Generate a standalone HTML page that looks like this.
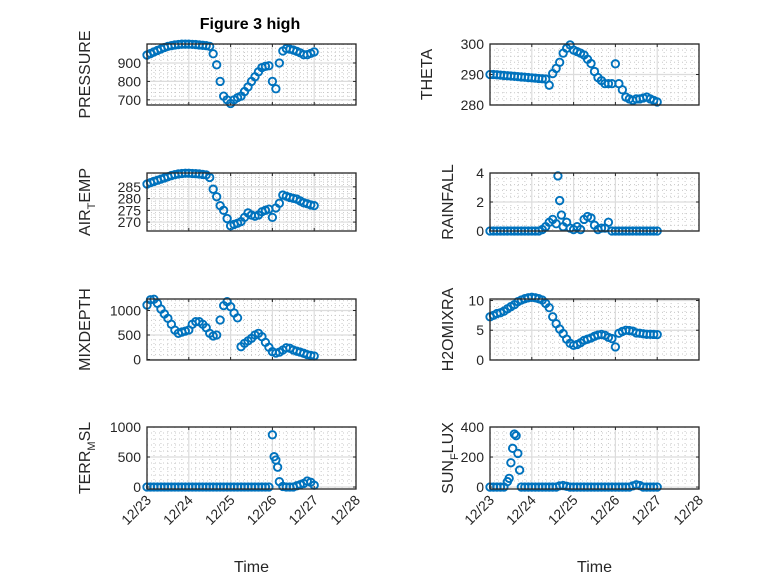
<!DOCTYPE html>
<html><head><meta charset="utf-8"><style>
html,body{margin:0;padding:0;background:#fff;}
svg{display:block;font-family:"Liberation Sans",sans-serif;}
</style></head><body>
<svg id="fig" width="778" height="583" viewBox="0 0 778 583">
<rect width="778" height="583" fill="#fff"/>
<text x="250" y="29" text-anchor="middle" font-size="16" font-weight="bold" fill="#000">Figure 3 high</text>
</svg>
<script>
// time in hours since 12/23 00:00
const xTickLabels = ["12/23","12/24","12/25","12/26","12/27","12/28"];
const t2 = [0,2,4,6,8,10,12,14,16,18,20,22,24,26,28,30,32,34,36,38,40,42,44,46,48,50,52,54,56,58,60,62,64,66,68,70,72,74,76,78,80,82,84,86,88,90,92,94,96];
const pressureVals = [943,951,960,968,976,984,990,994,998,1000,1002,1002,1002,1001,1000,998,996,994,990,950,890,800,720,700,680,700,712,720,745,770,800,825,852,875,882,885,800,760,900,965,978,975,970,963,955,945,945,952,960];
const thetaVals = [290,290,289.9,289.8,289.7,289.6,289.5,289.4,289.3,289.2,289.1,289,288.9,288.8,288.7,288.6,288.5,286.5,290.3,292,294,297,298.6,299.7,298,297.5,297,296.4,295,293.6,291,289,288,287,287,287,293.5,287,285,282.6,282,281.5,282,282,282.3,282.6,282,281.5,281];
const airVals = [286.2,286.8,287.3,287.8,288.3,288.8,289.3,289.8,290.2,290.5,290.7,290.8,290.8,290.7,290.6,290.5,290.3,290.1,289,284,280.8,277,275,271.5,268.4,269,269.5,270.2,272,273.9,273,272.5,273,274.4,275,275.5,272,276,278,281.5,281,280.5,280.1,279.8,279,278.2,277.8,277.3,277];
const mixVals = [1112,1220,1230,1146,1030,930,840,720,600,534,560,580,602,720,772,772,720,650,534,480,500,806,1100,1180,1078,950,850,262,330,380,432,500,534,466,350,250,160,130,150,194,240,230,194,170,150,126,100,85,72];
const h2oVals = [7.26,7.5,7.8,7.94,8.2,8.6,8.96,9.3,9.8,10.08,10.3,10.45,10.54,10.45,10.3,10.08,9.5,8.8,7.26,6.1,5.2,4.44,3.5,2.8,2.46,2.6,2.9,3.3,3.5,3.7,3.98,4.2,4.3,4.15,3.8,3.6,2.2,4.5,4.8,5.0,4.95,4.85,4.55,4.5,4.4,4.32,4.32,4.3,4.27];
const rainTimes = [0,2,4,6,8,10,12,14,16,18,20,22,24,26,28,30,32,34,36,38,39,40,41,42,44,46,48,50,52,54,56,58,60,62,64,66,68,70,72,74,76,78,80,82,84,86,88,90,92,94,96];
const rainVals = [0,0,0,0,0,0,0,0,0,0,0,0,0,0,0,0.1,0.3,0.6,0.8,0.5,3.8,2.1,1.1,0.3,0.6,0.2,0.1,0.3,0.1,0.8,1.0,0.9,0.4,0.1,0.2,0.2,0.6,0,0,0,0,0,0,0,0,0,0,0,0,0,0];
const terrTimes = [0,2,4,6,8,10,12,14,16,18,20,22,24,26,28,30,32,34,36,38,40,42,44,46,48,50,52,54,56,58,60,62,64,66,68,70,72,73,74,75,76,78,80,82,84,86,88,90,92,94,96];
const terrVals = [0,0,0,0,0,0,0,0,0,0,0,0,0,0,0,0,0,0,0,0,0,0,0,0,0,0,0,0,0,0,0,0,0,0,0,0,870,505,450,330,90,10,0,0,0,20,40,60,100,80,30];
const sunTimes = [0,2,4,6,8,10,11,12,13,14,15,16,17,18,20,22,24,26,28,30,32,34,36,38,40,42,44,46,48,50,52,54,56,58,60,62,64,66,68,70,72,74,76,78,80,82,84,86,88,90,92,94,96];
const sunVals = [0,0,0,0,0,36,58,162,258,353,342,224,113,0,0,0,0,0,0,0,0,0,0,0,8,10,5,0,0,0,0,0,0,0,0,0,0,0,0,0,0,0,0,0,0,8,15,10,0,0,0,0,0];
const pressureTicks = [700,800,900];
const thetaTicks = [280,290,300];
const airTicks = [270,275,280,285];
const rainTicks = [0,2,4];
const mixTicks = [0,500,1000];
const h2oTicks = [0,5,10];
const terrTicks = [0,500,1000];
const sunTicks = [0,200,400];

const NS = "http://www.w3.org/2000/svg";
const svg = document.getElementById('fig');
function mk(tag, attrs, parent){
  const e = document.createElementNS(NS, tag);
  for (const k in attrs) e.setAttribute(k, attrs[k]);
  (parent||svg).appendChild(e);
  return e;
}
const panels = [
  {id:"pressure", label:"PRESSURE", col:0, row:0, dom:[672,1003], ticks:pressureTicks, tx:t2, vals:pressureVals, lx:90},
  {id:"theta", label:"THETA", col:1, row:0, dom:[280,300], ticks:thetaTicks, tx:t2, vals:thetaVals, lx:432},
  {id:"air-temp", label:["AIR","T","EMP"], col:0, row:1, dom:[266.2,290.9], ticks:airTicks, tx:t2, vals:airVals, lx:90},
  {id:"rainfall", label:"RAINFALL", col:1, row:1, dom:[0,4], ticks:rainTicks, tx:rainTimes, vals:rainVals, lx:453},
  {id:"mixdepth", label:"MIXDEPTH", col:0, row:2, dom:[-10,1235], ticks:mixTicks, tx:t2, vals:mixVals, lx:90},
  {id:"h2omixra", label:"H2OMIXRA", col:1, row:2, dom:[0,10.25], ticks:h2oTicks, tx:t2, vals:h2oVals, lx:453},
  {id:"terr-msl", label:["TERR","M","SL"], col:0, row:3, dom:[-33,1000], ticks:terrTicks, tx:terrTimes, vals:terrVals, lx:90},
  {id:"sun-flux", label:["SUN","F","LUX"], col:1, row:3, dom:[-13,400], ticks:sunTicks, tx:sunTimes, vals:sunVals, lx:453}
];
const cols = [[147,356],[490,699]];
const rows = [[44,105],[173,231],[299,360],[427,489]];

panels.forEach(p=>{
  const [x0,x1] = cols[p.col], [y0,y1] = rows[p.row];
  const xs = h => x0 + h/120*(x1-x0);
  const ys = v => y1 - (v-p.dom[0])/(p.dom[1]-p.dom[0])*(y1-y0);
  const g = mk('g',{});
  
  
  mk('rect',{x:x0,y:y0,width:x1-x0,height:y1-y0,fill:'#fff'},g);
  for(let h=4;h<120;h+=4){ if(h%24===0) continue;
    mk('line',{x1:xs(h),x2:xs(h),y1:y0,y2:y1,stroke:'#c8c8c8','stroke-width':1,'stroke-dasharray':'1 3'},g); }
  const step = p.ticks[1]-p.ticks[0];
  for(let v=p.ticks[0]-step; v<=p.dom[1]; v+=step/5){
    if(v<p.dom[0]) continue;
    mk('line',{x1:x0,x2:x1,y1:ys(v),y2:ys(v),stroke:'#c8c8c8','stroke-width':1,'stroke-dasharray':'1 3'},g);
  }
  for(let d=1;d<5;d++) mk('line',{x1:xs(d*24),x2:xs(d*24),y1:y0,y2:y1,stroke:'#dcdcdc','stroke-width':1.2},g);
  p.ticks.forEach(v=>{
    mk('line',{x1:x0,x2:x1,y1:ys(v),y2:ys(v),stroke:'#dcdcdc','stroke-width':1.2},g);
    mk('line',{x1:x0,x2:x0+3,y1:ys(v),y2:ys(v),stroke:'#262626','stroke-width':1},g);
    mk('line',{x1:x1-3,x2:x1,y1:ys(v),y2:ys(v),stroke:'#262626','stroke-width':1},g);
    const tl = mk('text',{x:x0-6,y:ys(v)+5,'text-anchor':'end','font-size':14,fill:'#262626'},g);
    tl.textContent = String(v);
    
    
  });
  for(let d=0;d<=5;d++){
    mk('line',{x1:xs(d*24),x2:xs(d*24),y1:y1,y2:y1-3,stroke:'#262626','stroke-width':1},g);
    mk('line',{x1:xs(d*24),x2:xs(d*24),y1:y0,y2:y0+3,stroke:'#262626','stroke-width':1},g);
  }
  p.vals.forEach((v,i)=>{
    const c = mk('circle',{cx:xs(p.tx[i]),cy:ys(v),r:3.7,fill:'none',stroke:'#0072BD','stroke-width':1.9},g);
    
    
  });
  mk('rect',{x:x0,y:y0,width:x1-x0,height:y1-y0,fill:'none',stroke:'#262626','stroke-width':1.3},g);
  const cy = (y0+y1)/2;
  const yl = mk('text',{x:p.lx,y:cy,'text-anchor':'middle','font-size':16,fill:'#262626',transform:`rotate(-90 ${p.lx} ${cy})`},g);
  
  
  if(Array.isArray(p.label)){
    const a = mk('tspan',{},yl); a.textContent = p.label[0];
    const b = mk('tspan',{'font-size':11,dy:5},yl); b.textContent = p.label[1];
    const c = mk('tspan',{dy:-5},yl); c.textContent = p.label[2];
  } else yl.textContent = p.label;
  if(p.row===3){
    xTickLabels.forEach((s,d)=>{
      const x = xs(d*24)+5, y = y1+12;
      const t = mk('text',{x:x,y:y,'text-anchor':'end','font-size':14,fill:'#262626',transform:`rotate(-45 ${x} ${y})`},g);
      t.textContent = s;
      
      
    });
    const tt = mk('text',{x:(x0+x1)/2,y:572,'text-anchor':'middle','font-size':16,fill:'#262626'},g);
    tt.textContent = 'Time';
    
    
  }
});
</script>
</body></html>
